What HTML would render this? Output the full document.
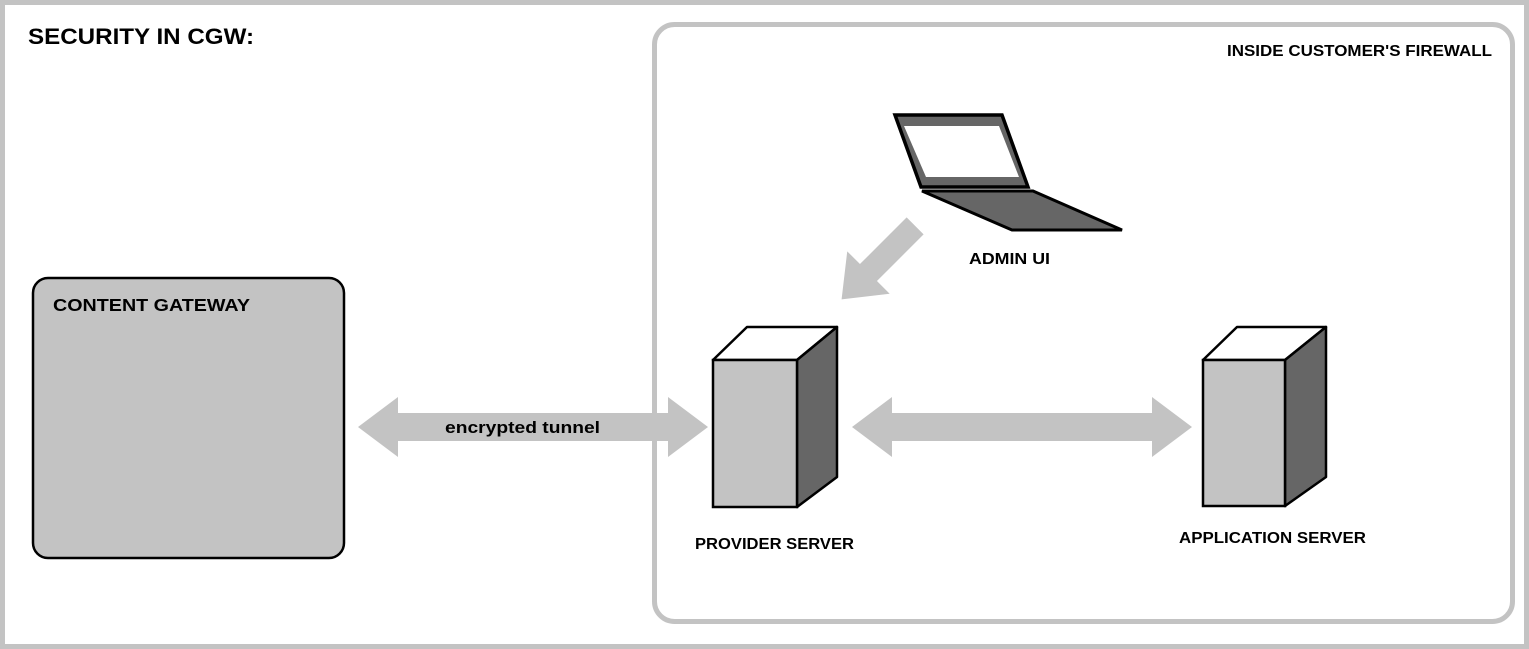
<!DOCTYPE html>
<html><head><style>
html,body{margin:0;padding:0;background:#fff}
svg{display:block}
text{font-family:"Liberation Sans",sans-serif;font-weight:bold;fill:#000}
</style></head><body>
<svg width="1529" height="649" viewBox="0 0 1529 649" xmlns="http://www.w3.org/2000/svg">
<rect x="2.5" y="2.5" width="1524" height="644" fill="#fff" stroke="#c3c3c3" stroke-width="5"/>
<text x="28" y="44" font-size="22" textLength="226" lengthAdjust="spacingAndGlyphs">SECURITY IN CGW:</text>
<rect x="33" y="278" width="311" height="280" rx="15" fill="#c3c3c3" stroke="#000" stroke-width="2.5"/>
<text x="53" y="311" font-size="17.5" textLength="197" lengthAdjust="spacingAndGlyphs">CONTENT GATEWAY</text>
<polygon fill="#c3c3c3" points="358,427 398,397 398,413 668,413 668,397 708,427 668,457 668,441 398,441 398,457"/>
<polygon fill="#c3c3c3" points="852,427 892,397 892,413 1152,413 1152,397 1192,427 1152,457 1152,441 892,441 892,457"/>
<rect x="654.5" y="24.5" width="858" height="597" rx="20" fill="none" stroke="#c3c3c3" stroke-width="5"/>
<text x="1227" y="56" font-size="15.5" textLength="265" lengthAdjust="spacingAndGlyphs">INSIDE CUSTOMER'S FIREWALL</text>
<text x="445" y="433" font-size="17" textLength="155" lengthAdjust="spacingAndGlyphs">encrypted tunnel</text>
<g transform="translate(843,298) rotate(-45)">
<polygon fill="#c3c3c3" points="0,0 38,-30 38,-12 104,-12 104,12 38,12 38,30" transform="translate(-2,0)"/>
</g>
<polygon points="895,115 1002,115 1028,187 921,187" fill="#666" stroke="#000" stroke-width="3.5"/>
<polygon points="904,126 999,126 1019,177 926,177" fill="#fff"/>
<polygon points="922,191 1033,191 1122,230 1012,230" fill="#666" stroke="#000" stroke-width="3"/>
<text x="969" y="264" font-size="15.5" textLength="81" lengthAdjust="spacingAndGlyphs">ADMIN UI</text>
<polygon points="713,360 747,327 837,327 797,360" fill="#fff" stroke="#000" stroke-width="2.5" stroke-linejoin="round"/>
<polygon points="797,360 837,327 837,477 797,507" fill="#666" stroke="#000" stroke-width="2.5" stroke-linejoin="round"/>
<rect x="713" y="360" width="84" height="147" fill="#c3c3c3" stroke="#000" stroke-width="2.5"/>
<text x="695" y="549" font-size="15.5" textLength="159" lengthAdjust="spacingAndGlyphs">PROVIDER SERVER</text>
<polygon points="1203,360 1237,327 1326,327 1285,360" fill="#fff" stroke="#000" stroke-width="2.5" stroke-linejoin="round"/>
<polygon points="1285,360 1326,327 1326,477 1285,506" fill="#666" stroke="#000" stroke-width="2.5" stroke-linejoin="round"/>
<rect x="1203" y="360" width="82" height="146" fill="#c3c3c3" stroke="#000" stroke-width="2.5"/>
<text x="1179" y="543" font-size="15.5" textLength="187" lengthAdjust="spacingAndGlyphs">APPLICATION SERVER</text>
</svg>
</body></html>
